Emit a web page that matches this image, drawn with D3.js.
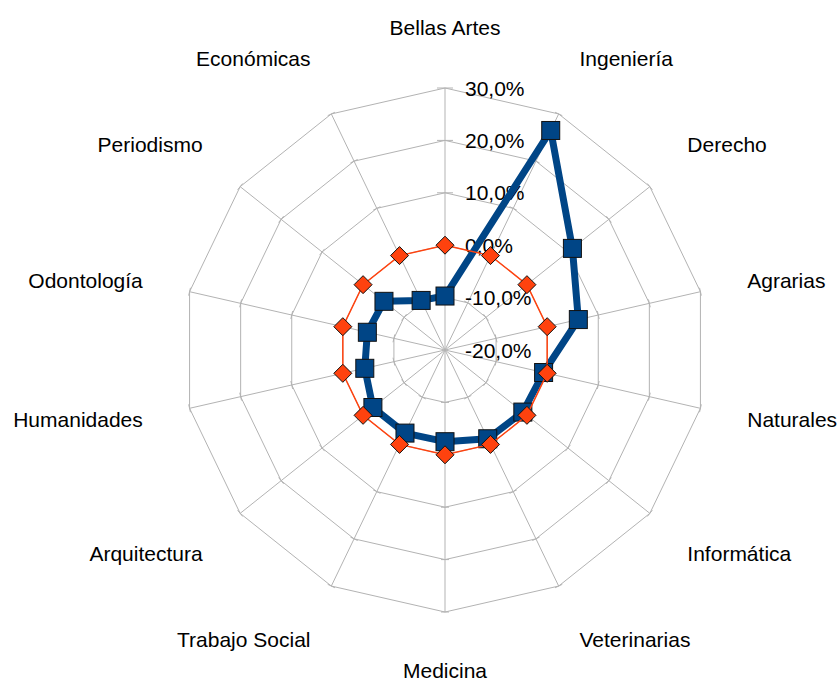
<!DOCTYPE html>
<html>
<head>
<meta charset="utf-8">
<script src="https://cdn.jsdelivr.net/npm/d3@7"></script>
<style>
  body { margin: 0; background: #fff; }
  text { font-family: "Liberation Sans", Arial, sans-serif; font-size: 21px; fill: #000; }
</style>
</head>
<body>
<div id="chart"></div>
<script>
// categories clockwise from the top
const categories = [
  "Bellas Artes", "Ingeniería", "Derecho", "Agrarias", "Naturales", "Informática",
  "Veterinarias", "Medicina", "Trabajo Social", "Arquitectura", "Humanidades",
  "Odontología", "Periodismo", "Económicas"
];
// blue series (%)
const variation = [-9.7, 26.5, 11.1, 6.1, -0.7, -1.0, -1.2, -2.5, -2.4, -2.4, -4.3, -4.8, -5.1, -9.5];
// orange reference series (%)
const reference = [0, 0, 0, 0, 0, 0, 0, 0, 0, 0, 0, 0, 0, 0];
const tickValues = [-20, -10, 0, 10, 20, 30];

const width = 839, height = 682;
const cx = 445, cy = 350, radius = 262;
const gridColor = "#b3b3b3";

const locale = d3.formatLocale({ decimal: ",", thousands: ".", grouping: [3], currency: ["", "€"], minus: "-" });
const fmt = v => locale.format(".1f")(v) + "%";

const r = d3.scaleLinear().domain([-20, 30]).range([0, radius]);
const angle = d3.scaleLinear().domain([0, categories.length]).range([0, 2 * Math.PI]);
const polar = (i, v) => [Math.sin(angle(i)) * r(v), -Math.cos(angle(i)) * r(v)];

const svg = d3.select("#chart").append("svg")
  .attr("width", width)
  .attr("height", height)
  .attr("viewBox", `0 0 ${width} ${height}`);

const g = svg.append("g").attr("transform", `translate(${cx},${cy})`);

const idx = d3.range(categories.length);

// rings
const ring = d3.lineRadial()
  .angle(i => angle(i))
  .curve(d3.curveLinearClosed);

g.selectAll("path.ring")
  .data(tickValues.slice(1))
  .join("path")
  .attr("class", "ring")
  .attr("d", v => ring.radius(() => r(v))(idx))
  .attr("fill", "none")
  .attr("stroke", gridColor)
  .attr("stroke-width", 1);

// spokes
g.selectAll("line.spoke")
  .data(idx)
  .join("line")
  .attr("class", "spoke")
  .attr("x1", 0).attr("y1", 0)
  .attr("x2", i => polar(i, 30)[0])
  .attr("y2", i => polar(i, 30)[1])
  .attr("stroke", gridColor)
  .attr("stroke-width", 1);

// small ticks on every spoke at each ring
const tickData = [];
idx.forEach(i => tickValues.slice(1).forEach(v => tickData.push({ i, v })));
g.selectAll("line.tick")
  .data(tickData)
  .join("line")
  .attr("class", "tick")
  .each(function (d) {
    const [x, y] = polar(d.i, d.v);
    const a = angle(d.i);
    const len = d.i === 0 ? 8 : 4;
    const px = Math.cos(a) * len, py = Math.sin(a) * len;
    d3.select(this)
      .attr("x1", x - px).attr("y1", y - py)
      .attr("x2", x + px).attr("y2", y + py);
  })
  .attr("stroke", gridColor)
  .attr("stroke-width", 1);

// value labels along the top axis
g.selectAll("text.tick-label")
  .data(tickValues)
  .join("text")
  .attr("class", "tick-label")
  .attr("x", 20)
  .attr("y", v => -r(v))
  .attr("dominant-baseline", "central")
  .text(fmt);

// category labels
g.selectAll("text.cat")
  .data(idx)
  .join("text")
  .attr("class", "cat")
  .each(function (i) {
    const a = angle(i);
    const s = Math.sin(a), c = Math.cos(a);
    const x = s * 310, y = -c * 312;
    const anchor = s > 0.05 ? "start" : s < -0.05 ? "end" : "middle";
    const dy = c > 0.3 ? -10.5 : c < -0.3 ? 8.5 : 0;
    d3.select(this)
      .attr("x", x)
      .attr("y", y + dy)
      .attr("text-anchor", anchor)
      .attr("dominant-baseline", "central")
      .text(categories[i]);
  });

const seriesLine = d3.lineRadial()
  .angle((d, i) => angle(i))
  .radius(d => r(d))
  .curve(d3.curveLinearClosed);

// blue series
g.append("path")
  .datum(variation)
  .attr("d", seriesLine)
  .attr("fill", "none")
  .attr("stroke", "#004586")
  .attr("stroke-width", 7)
  .attr("stroke-linejoin", "round");

g.selectAll("rect.blue")
  .data(variation)
  .join("rect")
  .attr("class", "blue")
  .attr("x", (d, i) => polar(i, d)[0] - 9)
  .attr("y", (d, i) => polar(i, d)[1] - 9)
  .attr("width", 18)
  .attr("height", 18)
  .attr("fill", "#004586")
  .attr("stroke", "#111")
  .attr("stroke-width", 1);

// orange series
g.append("path")
  .datum(reference)
  .attr("d", seriesLine)
  .attr("fill", "none")
  .attr("stroke", "#ff420e")
  .attr("stroke-width", 1.5);

g.selectAll("path.orange")
  .data(reference)
  .join("path")
  .attr("class", "orange")
  .attr("transform", (d, i) => `translate(${polar(i, d)[0]},${polar(i, d)[1]})`)
  .attr("d", "M0,-9L9,0L0,9L-9,0Z")
  .attr("fill", "#ff420e")
  .attr("stroke", "#111")
  .attr("stroke-width", 1);
</script>
</body>
</html>
